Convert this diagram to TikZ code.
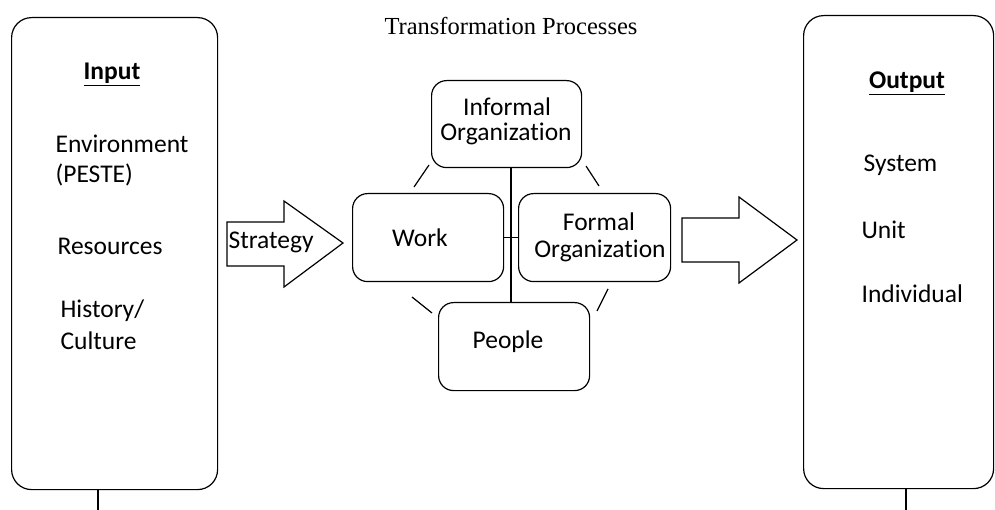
\documentclass[tikz,border=0pt]{standalone}
\usepackage{fontspec}
\setmainfont[Ligatures=NoCommon]{Carlito}
\newfontfamily\titlefont{Liberation Serif}
\begin{document}
\begin{tikzpicture}[x=1pt,y=-1pt,line width=1.2pt,
  bigbox/.style={draw,rounded corners=20pt,inner sep=0pt,anchor=north west},
  smallbox/.style={draw,rounded corners=15pt,inner sep=0pt,anchor=north west,minimum width=151pt,minimum height=88pt},
  txt/.style={font=\fontsize{25.5}{27}\selectfont,inner sep=0pt,anchor=base west},
  ctxt/.style={font=\fontsize{25.5}{27}\selectfont,inner sep=0pt,anchor=base},
  blockarrow/.style={draw,line join=miter}]
\useasboundingbox (0,0) rectangle (995,510);

% title
\node[font=\titlefont\fontsize{24.5}{26}\selectfont,inner sep=0pt,anchor=base] (title) at (511,35) {Transformation Processes};

% big boxes
\node[bigbox,minimum width=206pt,minimum height=472pt] (input) at (11,17) {};
\node[bigbox,minimum width=190pt,minimum height=473pt] (output) at (803,15) {};

% input texts
\node[ctxt,font=\fontsize{25.5}{27}\selectfont\bfseries] (inhead) at (112,80) {\underline{Input}};
\node[txt] (env) at (55,153) {Environment};
\node[txt] (peste) at (55,183) {(PESTE)};
\node[txt] (res) at (57,255) {Resources};
\node[txt] (hist) at (60,318) {History/};
\node[txt] (cult) at (60,349) {Culture};

% output texts
\node[ctxt,font=\fontsize{25.5}{27}\selectfont\bfseries] (outhead) at (907,89) {\underline{Output}};
\node[txt] (sys) at (863,172) {System};
\node[txt] (unit) at (861,239) {Unit};
\node[txt] (indiv) at (861,303) {Individual};

% block arrows
\draw[blockarrow] (227,222) -- (284,222) -- (284,201) -- (343,243) -- (284,287) -- (284,266) -- (227,266) -- cycle;
\node[txt] (strategy) at (228,249) {Strategy};
\draw[blockarrow] (682,218) -- (739,218) -- (739,197) -- (797,240) -- (739,283) -- (739,262) -- (682,262) -- cycle;

% small boxes
\node[smallbox,minimum width=150pt,minimum height=87pt] (informal) at (431,80) {};
\node[smallbox] (work) at (352,193) {};
\node[smallbox,minimum width=152pt] (formal) at (518,193) {};
\node[smallbox] (people) at (438,302) {};

\node[ctxt] (inf1) at (507,116) {Informal};
\node[ctxt] (inf2) at (506,141) {Organization};
\node[ctxt] (worktxt) at (420,247) {Work};
\node[ctxt] (form1) at (599,231) {Formal};
\node[ctxt] (form2) at (600,258) {Organization};
\node[ctxt] (peopletxt) at (508,348) {People};

% connectors
\coordinate (vx) at (511,0);
\draw (vx |- informal.south) -- (vx |- people.north);
\draw (work.east) -- (formal.west);

% diagonal ticks
\coordinate (d1a) at (429,165); \coordinate (d1b) at (414,187);
\coordinate (d2a) at (586,166); \coordinate (d2b) at (599,186);
\coordinate (d3a) at (412,297); \coordinate (d3b) at (432,313);
\coordinate (d4a) at (608,289); \coordinate (d4b) at (597,311);
\draw (d1a) -- (d1b);
\draw (d2a) -- (d2b);
\draw (d3a) -- (d3b);
\draw (d4a) -- (d4b);

% bottom ticks
\coordinate (inb) at (98,510);
\coordinate (outb) at (906,510);
\draw (inb |- input.south) -- (inb);
\draw (outb |- output.south) -- (outb);
\end{tikzpicture}
\end{document}
